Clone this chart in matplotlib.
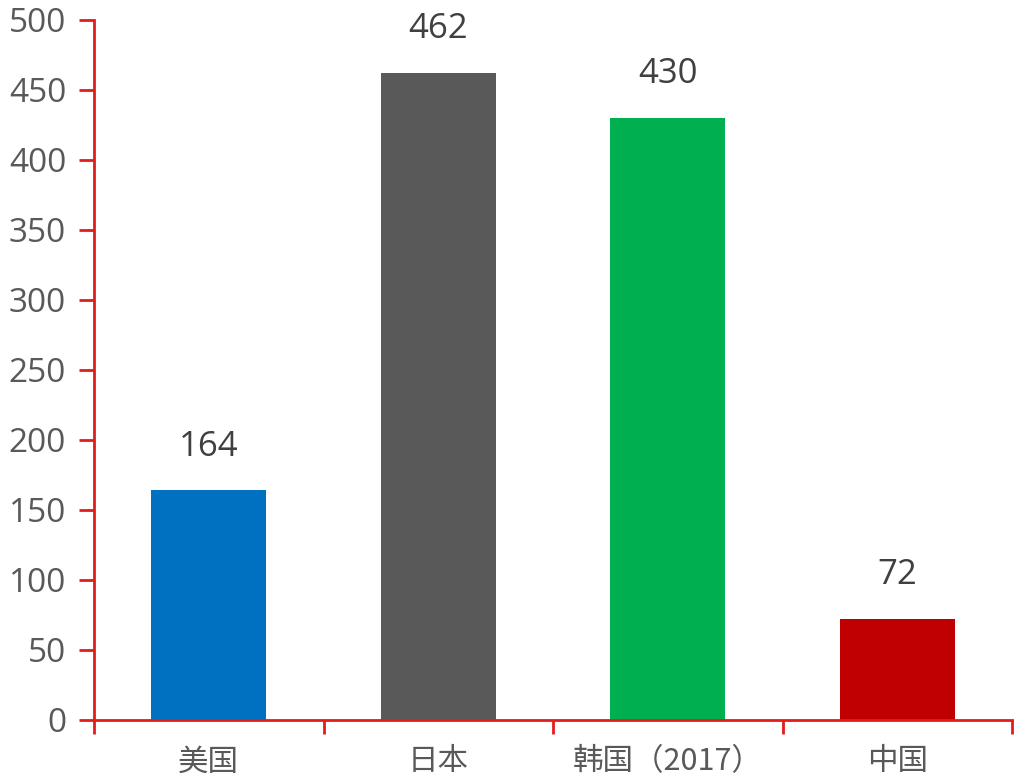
import matplotlib
matplotlib.use("Agg")
import matplotlib.pyplot as plt
from matplotlib.ticker import FixedLocator

categories = ["美国", "日本", "韩国（2017）", "中国"]
values = [164, 462, 430, 72]
colors = ["#0070C0", "#595959", "#00B050", "#C00000"]
yticks = [0, 50, 100, 150, 200, 250, 300, 350, 400, 450, 500]

plt.rcParams['font.family'] = ['Open Sans', 'Noto Sans CJK SC', 'DejaVu Sans']

fig = plt.figure(figsize=(10.29, 7.83), dpi=100)
ax = fig.add_axes([94/1029, 1 - 720/783, (1012 - 94)/1029, 700/783])

x = list(range(len(categories)))
ax.bar(x, values, width=0.5, color=colors, zorder=2)

red = "#E41C1C"
ax.set_xlim(-0.5, len(categories) - 0.5)
ax.set_ylim(0, 500)
for s in ["top", "right"]:
    ax.spines[s].set_visible(False)
for s in ["left", "bottom"]:
    ax.spines[s].set_color(red)
    ax.spines[s].set_linewidth(2)
    ax.spines[s].set_zorder(3)

ax.set_yticks(yticks)
ax.set_yticklabels([str(v) for v in yticks])
ax.tick_params(axis='y', direction='out', length=11, width=2, color=red,
               labelsize=24, labelcolor="#595959", pad=9)

ax.set_xticks(x)
ax.set_xticklabels(categories, family=['Noto Sans CJK SC', 'DejaVu Sans'],
                   fontweight='light')
ax.tick_params(axis='x', which='major', length=0, labelsize=22,
               labelcolor="#595959", pad=19)
ax.xaxis.set_minor_locator(FixedLocator([i - 0.5 for i in range(len(categories) + 1)]))
ax.tick_params(axis='x', which='minor', direction='out', length=10, width=2, color=red)

for xi, v in zip(x, values):
    ax.annotate(str(v), (xi, v), xytext=(0, 25), textcoords='offset points',
                ha='center', va='baseline', fontsize=25, color="#404040")

fig.savefig("out.png", dpi=100)
